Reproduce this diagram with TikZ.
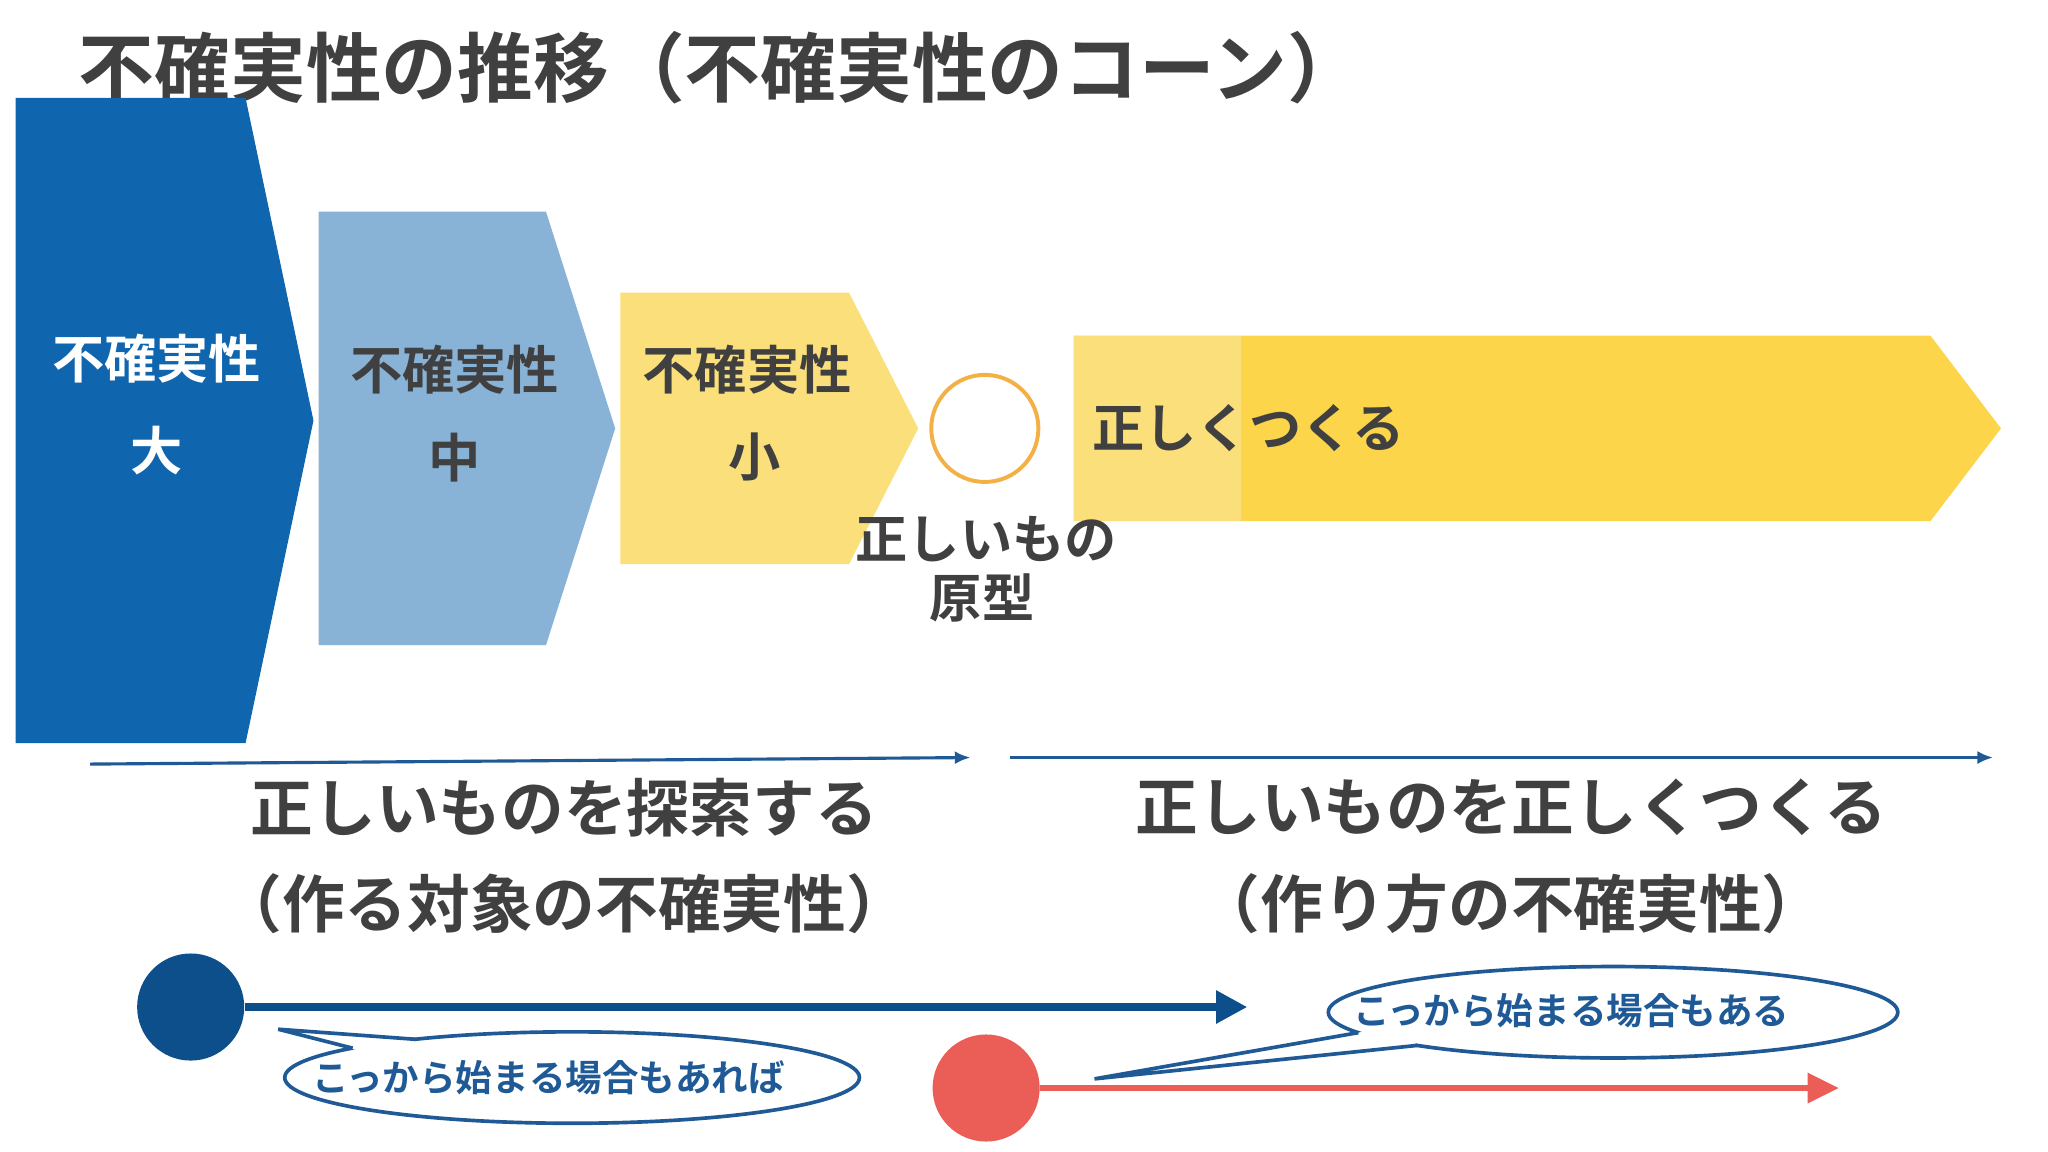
\documentclass[tikz,border=0pt]{standalone}
\usepackage{fontspec}
\usetikzlibrary{arrows.meta}
\setmainfont{Noto Sans CJK JP}[BoldFont={* Bold}]
\newfontfamily\jp{Noto Sans CJK JP Bold}
\definecolor{gtxt}{HTML}{404040}
\definecolor{bigblue}{HTML}{0F66AF}
\definecolor{midblue}{HTML}{89B3D6}
\definecolor{ylight}{HTML}{FADF7A}
\definecolor{ydark}{HTML}{FDD54B}
\definecolor{orng}{HTML}{F2B045}
\definecolor{lineblue}{HTML}{1F5A96}
\definecolor{dblue}{HTML}{0D4F8B}
\definecolor{redc}{HTML}{EB5E58}
\begin{document}
\begin{tikzpicture}[x=0.5pt,y=-0.5pt,
  boxtxt/.style={font=\jp\fontsize{20pt}{24pt}\selectfont,text=gtxt,inner sep=0},
  bigtxt/.style={font=\jp\fontsize{24pt}{28pt}\selectfont,text=gtxt,inner sep=0},
  bubtxt/.style={font=\jp\fontsize{14pt}{16pt}\selectfont,text=lineblue,inner sep=0},
  bubble/.style={draw=lineblue,line width=1.4pt,fill=white},
  thinarrow/.style={draw=lineblue,line width=1.2pt,-{Latex[length=6pt,width=5pt]}},
  ]
\useasboundingbox (0,0) rectangle (1568,882);
\fill[white] (0,0) rectangle (1568,882);
% title
\node[anchor=west,font=\jp\fontsize{29pt}{32pt}\selectfont,text=gtxt,inner sep=0] (title) at (60,52) {不確実性の推移（不確実性のコーン）};
% pentagons
\fill[bigblue] (12,75) -- (188,75) -- (240,322) -- (188,569) -- (12,569) -- cycle;
\fill[midblue] (244,162) -- (418,162) -- (471,328) -- (418,494) -- (244,494) -- cycle;
\fill[ylight] (475,224) -- (650,224) -- (703,328) -- (650,432) -- (475,432) -- cycle;
\fill[ydark] (822,257) -- (1478,257) -- (1532,328) -- (1478,399) -- (822,399) -- cycle;
\fill[ylight] (822,257) rectangle (950,399);
\node[boxtxt,text=white] (t1) at (120,275) {不確実性};
\node[boxtxt,text=white] (t1b) at (120,345) {大};
\node[boxtxt] (t2) at (348,283) {不確実性};
\node[boxtxt] (t2b) at (348,350) {中};
\node[boxtxt] (t3) at (572,283) {不確実性};
\node[boxtxt] (t3b) at (578,350) {小};
\node[boxtxt,anchor=west] (t4) at (836,328) {正しくつくる};
\node[draw=orng,line width=1.5pt,circle,minimum size=82*0.5pt,inner sep=0] (proto) at (754,328) {};
\node[boxtxt] (t5) at (755,413) {正しいもの};
\node[boxtxt] (t6) at (752,458) {原型};
% thin arrows
\coordinate (a1s) at (69,585); \coordinate (a1e) at (743,580);
\coordinate (a2s) at (773,580); \coordinate (a2e) at (1526,580);
\draw[thinarrow] (a1s) -- (a1e);
\draw[thinarrow] (a2s) -- (a2e);
\node[bigtxt] (b1) at (432,618) {正しいものを探索する};
\node[bigtxt] (b2) at (432,692) {（作る対象の不確実性）};
\node[bigtxt] (b3) at (1157,618) {正しいものを正しくつくる};
\node[bigtxt] (b4) at (1157,692) {（作り方の不確実性）};
% starting circles and arrows
\node[circle,fill=dblue,minimum size=82*0.5pt,inner sep=0] (c1) at (146,771) {};
\node[circle,fill=redc,minimum size=82*0.5pt,inner sep=0] (c2) at (755,833) {};
\coordinate (e1) at (955,773);
\coordinate (e2) at (1408,838);
\draw[dblue,line width=3pt,-{Triangle[length=12pt,width=12pt]}] (c1.east) -- (e1 |- c1.east) ;
\draw[redc,line width=2.6pt,-{Triangle[length=12pt,width=11pt]}] (c2.east) -- (e2 |- c2.east);
% bubble 1
\coordinate (tip1) at (213,788);
\draw[bubble] (438,825) ellipse [x radius=110pt, y radius=17.5pt];
\fill[white] (270,803) -- (tip1) -- (318,796.5) -- (300,815) -- cycle;
\draw[lineblue,line width=1.4pt,line join=miter] (270,802.5) -- (tip1) -- (318,795.7);
\node[bubtxt] (bt1) at (420,825) {こっから始まる場合もあれば};
% bubble 2
\coordinate (tip2) at (838,826);
\draw[bubble] (1235,775) ellipse [x radius=109pt, y radius=17.5pt];
\fill[white] (1040,790.6) -- (tip2) -- (1085,800.4) -- (1070,785) -- cycle;
\draw[lineblue,line width=1.4pt] (1040,790.6) -- (tip2) -- (1085,800.4);
\node[bubtxt] (bt2) at (1203,774) {こっから始まる場合もある};
\end{tikzpicture}
\end{document}
